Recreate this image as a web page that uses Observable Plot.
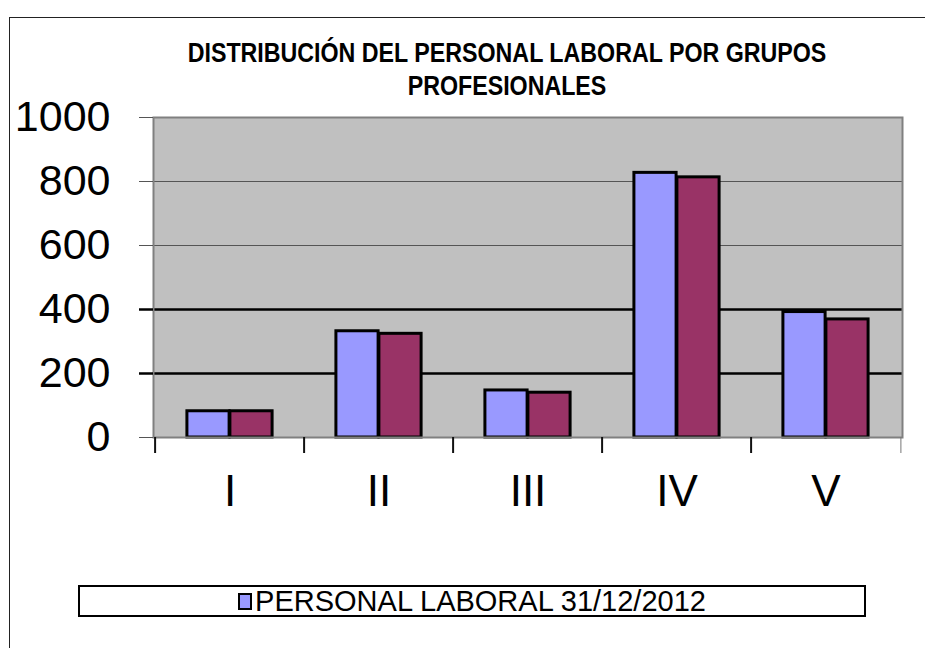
<!DOCTYPE html>
<html>
<head>
<meta charset="utf-8">
<script src="https://cdn.jsdelivr.net/npm/d3@7"></script>
<script src="https://cdn.jsdelivr.net/npm/@observablehq/plot@0.6"></script>
<style>
  html, body { margin: 0; padding: 0; overflow: hidden; background: #fff; }
  #wrap { position: relative; width: 925px; height: 648px; overflow: hidden; }
  #wrap svg { position: absolute; left: 0; top: 0; }
  #border { position: absolute; left: 9px; top: 17px; width: 1000px; height: 1000px; border: 1.5px solid #222; box-sizing: border-box; }
  #title { position: absolute; left: 107px; width: 800px; top: 37px; text-align: center; white-space: nowrap;
           font-family: "Liberation Sans Narrow", "Arial Narrow", "Liberation Sans", Arial, sans-serif;
           font-weight: bold; font-size: 27px; line-height: 33px; color: #000;
           transform: scaleX(0.86); transform-origin: 50% 50%; }
  #legend { position: absolute; left: 78px; top: 585px; width: 788px; height: 32px; box-sizing: border-box;
            border: 2px solid #000; background: #fff; display: flex; align-items: center; justify-content: center;
            font-family: "Liberation Sans", Arial, sans-serif; font-size: 29px; color: #000; }
  #legend .sw { display: inline-block; width: 10px; height: 13px; border: 2px solid #000; margin-right: 3px; }
</style>
</head>
<body>
<div id="wrap">
  <div id="border"></div>
  <div id="title"></div>
  <div id="legend"></div>
</div>
<script>
// ---- data ----
const groups = ["I", "II", "III", "IV", "V"];
const series2012 = [82, 332, 147, 827, 392];   // blue series: PERSONAL LABORAL 31/12/2012
const seriesB = [82, 324, 140, 813, 369];      // second (crimson) series, not named in the visible legend
const yTicks = [0, 200, 400, 600, 800, 1000];
const titleLines = ["DISTRIBUCIÓN DEL PERSONAL LABORAL POR GRUPOS", "PROFESIONALES"];
const legendLabel = "PERSONAL LABORAL 31/12/2012";
const colors = ["#9999ff", "#993366"];

const dataA = groups.map((g, i) => ({group: g, value: series2012[i]}));
const dataB = groups.map((g, i) => ({group: g, value: seriesB[i]}));

const W = 925, H = 648, mL = 153, mR = 23, mT = 117, mB = 211;
const bw = (W - mL - mR) / groups.length;
const barW = bw * 0.287;
const outer = (bw - 2 * barW) / 2;

const chart = Plot.plot({
  width: W, height: H,
  marginLeft: mL, marginRight: mR, marginTop: mT, marginBottom: mB,
  style: {fontFamily: "'Liberation Sans', Arial, sans-serif", color: "#000", background: "transparent"},
  x: {domain: groups, padding: 0, axis: null, label: null},
  y: {domain: [0, 1000], axis: null, label: null},
  marks: [
    Plot.frame({fill: "#c0c0c0"}),
    Plot.ruleY([600, 800], {stroke: "#555", strokeWidth: 1}),
    Plot.ruleY([200, 400], {stroke: "#000", strokeWidth: 2.5}),
    Plot.barY(dataA, {x: "group", y: "value", fill: colors[0], stroke: "#000", strokeWidth: 3,
      insetLeft: outer, insetRight: bw - outer - barW}),
    Plot.barY(dataB, {x: "group", y: "value", fill: colors[1], stroke: "#000", strokeWidth: 3,
      insetLeft: outer + barW, insetRight: outer}),
    Plot.frame({stroke: "#808080", strokeWidth: 2}),
    Plot.axisY([0, 600, 800, 1000], {tickSize: 14, stroke: "#555", strokeWidth: 1, fill: "none", label: null}),
    Plot.axisY([200, 400], {tickSize: 14, stroke: "#000", strokeWidth: 2.5, fill: "none", label: null}),
    Plot.axisY(yTicks, {tickSize: 0, tickPadding: 43, fontSize: 43, fill: "#000", label: null, tickFormat: d => String(d)}),
    Plot.axisX(groups, {tickSize: 16, stroke: "#111", strokeWidth: 2, fill: "none", dx: -bw / 2, label: null}),
    Plot.axisX(["V"], {tickSize: 16, stroke: "#777", strokeWidth: 1, fill: "none", dx: bw / 2, label: null}),
    Plot.axisX(groups, {tickSize: 0, tickPadding: 37, fontSize: 44, fill: "#000", label: null})
  ]
});
document.getElementById("wrap").insertBefore(chart, document.getElementById("border"));

document.getElementById("title").innerHTML = titleLines.join("<br>");
const leg = document.getElementById("legend");
const sw = document.createElement("span");
sw.className = "sw";
sw.style.background = colors[0];
leg.appendChild(sw);
leg.appendChild(document.createTextNode(legendLabel));
</script>
</body>
</html>
